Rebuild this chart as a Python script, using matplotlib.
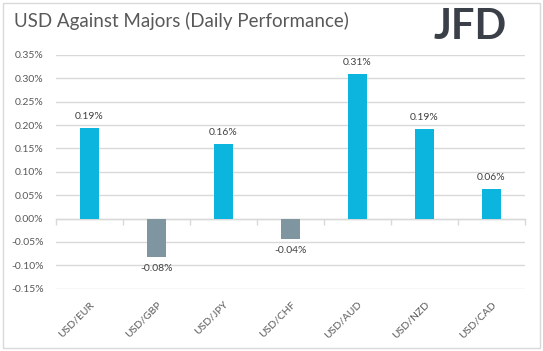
import numpy as np
import matplotlib
matplotlib.use('Agg')
from matplotlib import pyplot as plt
from matplotlib.patches import Rectangle

# chart data
pairs = ['USD/EUR', 'USD/GBP', 'USD/JPY', 'USD/CHF', 'USD/AUD', 'USD/NZD', 'USD/CAD']
changes = [0.194, -0.082, 0.160, -0.043, 0.310, 0.192, 0.063]
y_ticks = [-0.15, -0.10, -0.05, 0.00, 0.05, 0.10, 0.15, 0.20, 0.25, 0.30, 0.35]

plt.rcParams['font.family'] = ['Lato', 'DejaVu Sans']

fig = plt.figure(figsize=(5.43, 3.51), dpi=100)
ax = fig.add_axes([56 / 543, 1 - 288.7 / 351, 469 / 543, 233.7 / 351])

blue = '#0cb5dd'
grey = '#7f959f'
grid = '#d9d9d9'
txt = '#595959'

x = np.arange(len(pairs))
colors = [blue if v >= 0 else grey for v in changes]
bars = ax.bar(x, changes, width=0.28, color=colors, zorder=3)

# value labels
for b, v in zip(bars, changes):
    if v >= 0:
        ax.annotate('%.2f%%' % v, (b.get_x() + b.get_width() / 2, v),
                    xytext=(0, 5), textcoords='offset points',
                    ha='center', va='bottom', fontsize=7.5, color='#404040')
    else:
        ax.annotate('%.2f%%' % v, (b.get_x() + b.get_width() / 2, v),
                    xytext=(0, -5), textcoords='offset points',
                    ha='center', va='top', fontsize=7.5, color='#404040')

ax.set_xlim(-0.5, len(pairs) - 0.5)
ax.set_ylim(-0.15, 0.35)
ax.set_yticks(y_ticks)
ax.set_yticklabels(['%.2f%%' % t for t in y_ticks])
ax.yaxis.grid(True, color=grid, linewidth=1, zorder=0)
ax.set_axisbelow(True)
for s in ax.spines.values():
    s.set_visible(False)
ax.tick_params(axis='y', length=0, pad=9, labelsize=7.5, labelcolor=txt)

ax.set_xticks(x)
ax.set_xticklabels(pairs, rotation=45, ha='right', va='top',
                   rotation_mode='anchor')
ax.tick_params(axis='x', length=0, pad=8, labelsize=7.5, labelcolor=txt)

# zero line with category separators
sec = ax.secondary_xaxis(0.3)
sec.set_xticks(np.arange(-0.5, len(pairs), 1.0))
sec.tick_params(length=4, color=grid, width=1, labelbottom=False)
sec.spines['bottom'].set_color(grid)
sec.spines['bottom'].set_linewidth(1)

fig.text(14 / 543, 1 - 21 / 351, 'USD Against Majors (Daily Performance)',
         fontsize=13.5, color=txt, va='center', ha='left')
fig.text(507 / 543, 1 - 27 / 351, 'JFD', fontsize=30, fontweight='bold',
         color='#3b4048', va='center', ha='right')

fig.patches.append(Rectangle((2.5 / 543, 3.5 / 351), 537.5 / 543, 345 / 351,
                             transform=fig.transFigure, fill=False,
                             edgecolor=grid, linewidth=1))

fig.savefig('out.png', dpi=100)
